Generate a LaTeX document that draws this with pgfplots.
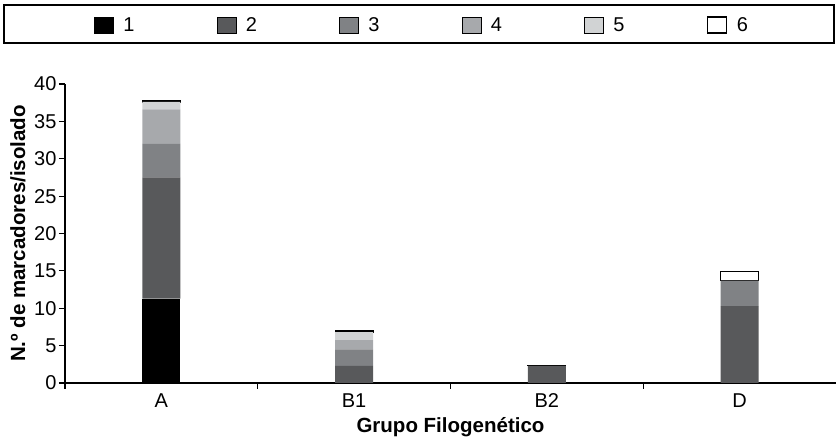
\documentclass[border=0pt]{standalone}
\usepackage{fontspec}
\setmainfont{Liberation Sans}
\usepackage{pgfplots}
\pgfplotsset{compat=1.18}
\definecolor{cA}{HTML}{000000}
\definecolor{cB}{HTML}{58595B}
\definecolor{cC}{HTML}{808285}
\definecolor{cD}{HTML}{A7A9AC}
\definecolor{cE}{HTML}{D1D3D4}
\newcommand{\bigf}{\fontsize{20}{24}\selectfont}
\newcommand{\labf}{\fontsize{20.5}{24}\selectfont}
\begin{document}
\begin{tikzpicture}[x=1pt,y=1pt]
\useasboundingbox (0,0) rectangle (836,443);
\draw[line width=1.3pt] (4,438) rectangle (834,400);
\begin{axis}[
  at={(65pt,60pt)}, anchor=south west,
  scale only axis, width=771pt, height=299pt,
  xmin=-0.5, xmax=3.5, ymin=0, ymax=40,
  ybar stacked, bar width=38pt,
  axis x line=bottom, axis y line=left,
  axis line style={-, line width=1.2pt},
  xtick={0,1,2,3}, xticklabels={A,B1,B2,D},
  major x tick style={draw=none},
  minor xtick={-0.5,0.5,1.5,2.5},
  ytick={0,5,...,40},
  tick align=outside,
  major tick length=6pt, minor tick length=6pt,
  tick style={line width=1.2pt, black},
  /pgf/number format/assume math mode=true,
  tick label style={font=\bigf},
  xticklabel style={yshift=-1pt},
  yticklabel style={xshift=1pt},
  label style={font=\labf\bfseries},
  xlabel={Grupo Filogenético},
  ylabel={N.º de marcadores/isolado},
  xlabel style={at={(axis description cs:0.5,-0.147)}, anchor=center},
  ylabel style={at={(axis description cs:-0.061,0.5)}, anchor=center},
  legend columns=6,
  legend image code/.code={\draw[#1] (0pt,-8pt) rectangle (19pt,8pt);},
  legend style={draw=none, fill=none, inner sep=0pt, outer sep=0pt,
    at={(axis description cs:0.0376,1.197)}, anchor=west,
    font=\bigf,
    /tikz/every odd column/.append style={column sep=8pt},
    /tikz/every even column/.append style={column sep=80pt}},
]
\addplot[fill=cA, draw=none] coordinates {(0,11.3) (1,0) (2,0) (3,0)};
\addplot[fill=cB, draw=none] coordinates {(0,16.2) (1,2.3) (2,2.3) (3,10.3)};
\addplot[fill=cC, draw=none] coordinates {(0,4.5) (1,2.2) (2,0) (3,3.4)};
\addplot[fill=cD, draw=none] coordinates {(0,4.6) (1,1.25) (2,0) (3,0)};
\addplot[fill=cE, draw=none] coordinates {(0,1.0) (1,1.05) (2,0) (3,0)};
\addplot[fill=white, draw=black, line width=1.2pt] coordinates {(0,0.2) (1,0.15) (2,0.06) (3,1.25)};
\legend{1,2,3,4,5,6}
\end{axis}
\end{tikzpicture}
\end{document}
